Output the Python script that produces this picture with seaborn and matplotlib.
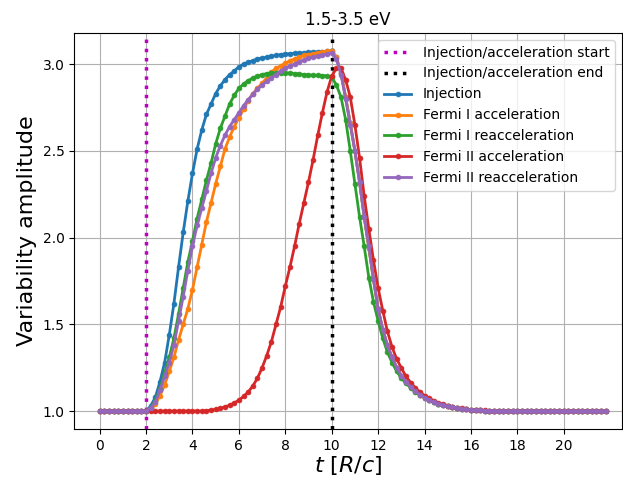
import numpy as np
import pandas as pd
import matplotlib
matplotlib.use("Agg")
import matplotlib.pyplot as plt
import seaborn as sns

# time grid in units of R/c (sampled every 0.2)
t = np.round(np.arange(110) * 0.2, 1)

injection = [
    1.0, 1.0, 1.0, 1.0, 1.0, 1.0, 1.0, 1.0, 1.0, 1.0,
    1.0, 1.03, 1.08, 1.17, 1.28, 1.44, 1.62, 1.83, 2.03, 2.21,
    2.37, 2.51, 2.62, 2.71, 2.77, 2.83, 2.875, 2.91, 2.94, 2.96,
    2.985, 3.0, 3.01, 3.02, 3.03, 3.035, 3.04, 3.045, 3.05, 3.055,
    3.058, 3.06, 3.062, 3.064, 3.066, 3.068, 3.07, 3.071, 3.072, 3.073,
    3.074, 3.04, 2.95, 2.81, 2.66, 2.50, 2.32, 2.12, 1.94, 1.76,
    1.59, 1.47, 1.38, 1.31, 1.25, 1.205, 1.17, 1.14, 1.115, 1.095,
    1.078, 1.064, 1.052, 1.042, 1.034, 1.027, 1.022, 1.017, 1.013, 1.01,
    1.008, 1.006, 1.004, 1.003, 1.002, 1.001, 1.0, 1.0, 1.0, 1.0,
    1.0, 1.0, 1.0, 1.0, 1.0, 1.0, 1.0, 1.0, 1.0, 1.0,
    1.0, 1.0, 1.0, 1.0, 1.0, 1.0, 1.0, 1.0, 1.0, 1.0,
]

fermi1_acc = [
    1.0, 1.0, 1.0, 1.0, 1.0, 1.0, 1.0, 1.0, 1.0, 1.0,
    1.0, 1.01, 1.04, 1.09, 1.15, 1.23, 1.31, 1.41, 1.50, 1.59,
    1.70, 1.83, 1.96, 2.09, 2.20, 2.31, 2.41, 2.51, 2.58, 2.64,
    2.69, 2.74, 2.79, 2.83, 2.86, 2.89, 2.92, 2.955, 2.975, 2.99,
    3.005, 3.02, 3.03, 3.04, 3.05, 3.055, 3.06, 3.065, 3.07, 3.073,
    3.075, 3.04, 2.95, 2.81, 2.66, 2.50, 2.32, 2.12, 1.94, 1.76,
    1.59, 1.47, 1.38, 1.31, 1.25, 1.205, 1.17, 1.14, 1.115, 1.095,
    1.078, 1.064, 1.052, 1.042, 1.034, 1.027, 1.022, 1.017, 1.013, 1.01,
    1.008, 1.006, 1.004, 1.003, 1.002, 1.001, 1.0, 1.0, 1.0, 1.0,
    1.0, 1.0, 1.0, 1.0, 1.0, 1.0, 1.0, 1.0, 1.0, 1.0,
    1.0, 1.0, 1.0, 1.0, 1.0, 1.0, 1.0, 1.0, 1.0, 1.0,
]

fermi1_reacc = [
    1.0, 1.0, 1.0, 1.0, 1.0, 1.0, 1.0, 1.0, 1.0, 1.0,
    1.0, 1.02, 1.06, 1.13, 1.22, 1.31, 1.42, 1.56, 1.71, 1.86,
    1.98, 2.11, 2.22, 2.33, 2.43, 2.54, 2.63, 2.70, 2.77, 2.82,
    2.86, 2.885, 2.905, 2.92, 2.93, 2.94, 2.945, 2.95, 2.95, 2.95,
    2.95, 2.948, 2.945, 2.942, 2.94, 2.938, 2.936, 2.935, 2.934, 2.932,
    2.925, 2.88, 2.81, 2.68, 2.50, 2.31, 2.12, 1.95, 1.77, 1.63,
    1.52, 1.42, 1.34, 1.28, 1.23, 1.19, 1.16, 1.135, 1.11, 1.095,
    1.08, 1.065, 1.054, 1.044, 1.036, 1.029, 1.023, 1.018, 1.014, 1.011,
    1.008, 1.006, 1.004, 1.003, 1.002, 1.001, 1.0, 1.0, 1.0, 1.0,
    1.0, 1.0, 1.0, 1.0, 1.0, 1.0, 1.0, 1.0, 1.0, 1.0,
    1.0, 1.0, 1.0, 1.0, 1.0, 1.0, 1.0, 1.0, 1.0, 1.0,
]

fermi2_acc = [
    1.0, 1.0, 1.0, 1.0, 1.0, 1.0, 1.0, 1.0, 1.0, 1.0,
    1.0, 1.0, 1.0, 1.0, 1.0, 1.0, 1.0, 1.0, 1.0, 1.0,
    1.0, 1.0, 1.0, 1.003, 1.006, 1.01, 1.016, 1.024, 1.034, 1.047,
    1.063, 1.085, 1.11, 1.145, 1.19, 1.25, 1.32, 1.40, 1.50, 1.60,
    1.72, 1.83, 1.95, 2.08, 2.20, 2.32, 2.45, 2.59, 2.72, 2.84,
    2.93, 2.975, 2.975, 2.91, 2.81, 2.65, 2.46, 2.24, 2.05, 1.87,
    1.71, 1.58, 1.46, 1.37, 1.30, 1.25, 1.20, 1.165, 1.135, 1.11,
    1.09, 1.075, 1.06, 1.048, 1.04, 1.032, 1.025, 1.02, 1.016, 1.012,
    1.009, 1.007, 1.005, 1.004, 1.003, 1.002, 1.001, 1.0, 1.0, 1.0,
    1.0, 1.0, 1.0, 1.0, 1.0, 1.0, 1.0, 1.0, 1.0, 1.0,
    1.0, 1.0, 1.0, 1.0, 1.0, 1.0, 1.0, 1.0, 1.0, 1.0,
]

fermi2_reacc = [
    1.0, 1.0, 1.0, 1.0, 1.0, 1.0, 1.0, 1.0, 1.0, 1.0,
    1.0, 1.02, 1.05, 1.12, 1.20, 1.28, 1.38, 1.52, 1.66, 1.81,
    1.95, 2.07, 2.17, 2.27, 2.37, 2.46, 2.53, 2.59, 2.64, 2.68,
    2.72, 2.76, 2.795, 2.825, 2.855, 2.88, 2.90, 2.92, 2.94, 2.96,
    2.975, 2.99, 3.0, 3.013, 3.024, 3.033, 3.04, 3.046, 3.052, 3.058,
    3.065, 3.03, 2.94, 2.80, 2.65, 2.50, 2.32, 2.12, 1.95, 1.76,
    1.59, 1.47, 1.38, 1.31, 1.25, 1.205, 1.17, 1.14, 1.115, 1.095,
    1.078, 1.064, 1.052, 1.042, 1.034, 1.027, 1.022, 1.017, 1.013, 1.01,
    1.008, 1.006, 1.004, 1.003, 1.002, 1.001, 1.0, 1.0, 1.0, 1.0,
    1.0, 1.0, 1.0, 1.0, 1.0, 1.0, 1.0, 1.0, 1.0, 1.0,
    1.0, 1.0, 1.0, 1.0, 1.0, 1.0, 1.0, 1.0, 1.0, 1.0,
]

labels = ["Injection", "Fermi I acceleration", "Fermi I reacceleration",
          "Fermi II acceleration", "Fermi II reacceleration"]
series = [injection, fermi1_acc, fermi1_reacc, fermi2_acc, fermi2_reacc]
colors = ["#1f77b4", "#ff7f0e", "#2ca02c", "#d62728", "#9467bd"]

t_start = 2
t_end = 10

fig = plt.figure(figsize=(6.23, 4.79), dpi=100)
ax = fig.add_axes([0.119, 0.104, 0.879, 0.827])

ax.axvline(t_start, color="m", ls=":", lw=2.5, label="Injection/acceleration start")
ax.axvline(t_end, color="k", ls=":", lw=2.5, label="Injection/acceleration end")

for vals, lab, col in zip(series, labels, colors):
    df = pd.DataFrame({"t": t, "amp": vals})
    sns.lineplot(data=df, x="t", y="amp", ax=ax, color=col, label=lab,
                 marker=".", markersize=7, markeredgecolor=col,
                 markeredgewidth=0.5, lw=2)

ax.set_xlim(-1.1, 22.5)
ax.set_ylim(0.896, 3.179)
ax.set_xticks(np.arange(0, 21, 2))
ax.set_yticks([1.0, 1.5, 2.0, 2.5, 3.0])
ax.grid(True, color="#b0b0b0", lw=0.8)
ax.set_axisbelow(True)
ax.set_xlabel("$t$ [$R/c$]", fontsize=16, labelpad=1)
ax.set_ylabel("Variability amplitude", fontsize=16)
ax.set_title("1.5-3.5 eV", fontsize=12)
ax.legend(loc="upper right", fontsize=10)

fig.savefig("out.png", dpi=100)
